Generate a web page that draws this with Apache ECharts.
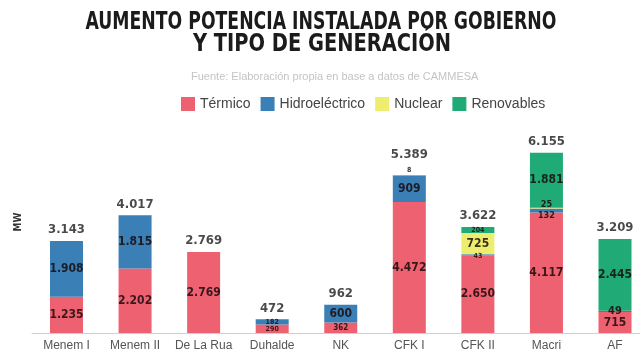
<!DOCTYPE html>
<html>
<head>
<meta charset="utf-8">
<script src="https://cdn.jsdelivr.net/npm/echarts@6/dist/echarts.min.js"></script>
<style>html,body{margin:0;padding:0;background:#fff}#c{width:640px;height:362px}</style>
</head>
<body>
<div id="c"></div>
<script>
const categories = ['Menem I','Menem II','De La Rua','Duhalde','NK','CFK I','CFK II','Macri','AF'];
const termico    = [1235, 2202, 2769, 290, 362, 4472, 2650, 4117, 715];
const hidro      = [1908, 1815, 0, 182, 600, 909, 43, 132, 49];
const nuclear    = [0, 0, 0, 0, 0, 0, 725, 25, 0];
const renovables = [0, 0, 0, 0, 0, 8, 204, 1881, 2445];
const totals     = [3143, 4017, 2769, 472, 962, 5389, 3622, 6155, 3209];
const titleLines = ['AUMENTO POTENCIA INSTALADA POR GOBIERNO', 'Y TIPO DE GENERACIÓN'];
const subtitle   = 'Fuente: Elaboración propia en base a datos de CAMMESA';

const COND = "'DejaVu Sans Condensed', 'Liberation Sans Narrow', 'Liberation Sans', sans-serif";
const fmt = v => String(v).replace(/\B(?=(\d{3})+(?!\d))/g, '.');

// label style tweaks (presentation only)
const labelTweaks = {
  'Térmico|Duhalde': {fontSize: 7},
  'Hidroeléctrico|Duhalde': {fontSize: 7},
  'Térmico|NK': {fontSize: 8},
  'Hidroeléctrico|CFK II': {fontSize: 7, offset: [0, 1]},
  'Renovables|CFK II': {fontSize: 7},
  'Renovables|CFK I': {fontSize: 7, position: 'top', distance: 1},
  'Hidroeléctrico|Macri': {fontSize: 9, offset: [0, 5]},
  'Nuclear|Macri': {fontSize: 9, offset: [0, -4]},
  'Hidroeléctrico|AF': {fontSize: 11, offset: [0, 0]}
};
const totalDist = {'CFK I': 14};

function seriesData(name, arr) {
  return arr.map((v, i) => {
    const t = labelTweaks[name + '|' + categories[i]];
    const d = {value: v};
    if (t) d.label = Object.assign({}, t);
    return d;
  });
}

const colors = {'Térmico': '#ee6171', 'Hidroeléctrico': '#3a7fb6', 'Nuclear': '#eeee6e', 'Renovables': '#20ab76'};

function barSeries(name, arr) {
  return {
    name, type: 'bar', stack: 'gen', barWidth: 33,
    itemStyle: {color: colors[name]},
    data: seriesData(name, arr),
    label: {
      show: true, position: 'inside', color: 'rgba(25,10,10,0.85)',
      fontFamily: COND, fontWeight: 'bold', fontSize: 12,
      formatter: p => p.value ? fmt(p.value) : ''
    }
  };
}

const chart = echarts.init(document.getElementById('c'), null, {renderer: 'canvas'});
chart.setOption({
  animation: false,
  backgroundColor: '#fff',
  title: [
    {text: subtitle, left: 186, top: 66,
     textStyle: {fontFamily: "'Liberation Sans', sans-serif", fontWeight: 'normal', fontSize: 11, color: '#c4c4c4'}}
  ],
  legend: {
    data: ['Térmico', 'Hidroeléctrico', 'Nuclear', 'Renovables'],
    left: 176, top: 92, itemWidth: 14, itemHeight: 14, itemGap: 10, icon: 'rect',
    textStyle: {fontFamily: "'Liberation Sans', sans-serif", fontSize: 14, color: '#444'}
  },
  grid: [
    {left: 66.5, right: 25, top: 128, bottom: 29},
    {left: 32, right: 0, top: 128, bottom: 29}
  ],
  xAxis: [{
    type: 'category', data: categories, boundaryGap: false, gridIndex: 0,
    axisLine: {show: false},
    axisTick: {show: false},
    axisLabel: {color: '#555', fontSize: 12, margin: 7, interval: 0, fontFamily: "'Liberation Sans', sans-serif"}
  }, {
    type: 'category', data: [''], gridIndex: 1,
    axisLine: {lineStyle: {color: '#cfcfcf', width: 1}},
    axisTick: {show: false}, axisLabel: {show: false}
  }],
  yAxis: [
    {type: 'value', min: 0, max: 7000, show: false, gridIndex: 0},
    {type: 'value', min: 0, max: 7000, show: false, gridIndex: 1}
  ],
  graphic: [
    {type: 'text', x: 321, y: 23, scaleX: 0.8, scaleY: 1,
     style: {text: titleLines[0], fontFamily: COND, fontWeight: 'bold', fontSize: 24, fill: '#1b1b1b', align: 'center', verticalAlign: 'middle'}},
    {type: 'text', x: 322, y: 45, scaleX: 0.9, scaleY: 1,
     style: {text: titleLines[1], fontFamily: COND, fontWeight: 'bold', fontSize: 24, fill: '#1b1b1b', align: 'center', verticalAlign: 'middle'}},
    {type: 'text', x: 18, y: 222, rotation: Math.PI / 2,
     style: {text: 'MW', fontFamily: COND, fontWeight: 'bold', fontSize: 10, fill: '#333', align: 'center', verticalAlign: 'middle'}}
  ],
  series: [
    barSeries('Térmico', termico),
    barSeries('Hidroeléctrico', hidro),
    barSeries('Nuclear', nuclear),
    barSeries('Renovables', renovables),
    {
      name: 'Total', type: 'scatter', symbolSize: 1, itemStyle: {color: 'rgba(0,0,0,0)'},
      data: totals.map((v, i) => ({value: v, label: {distance: totalDist[categories[i]] || 4}})),
      label: {show: true, position: 'top', color: '#1b1b1b', fontFamily: COND, fontWeight: 'bold', fontSize: 13,
              formatter: p => fmt(p.value)},
      silent: true
    }
  ]
});
</script>
</body>
</html>
